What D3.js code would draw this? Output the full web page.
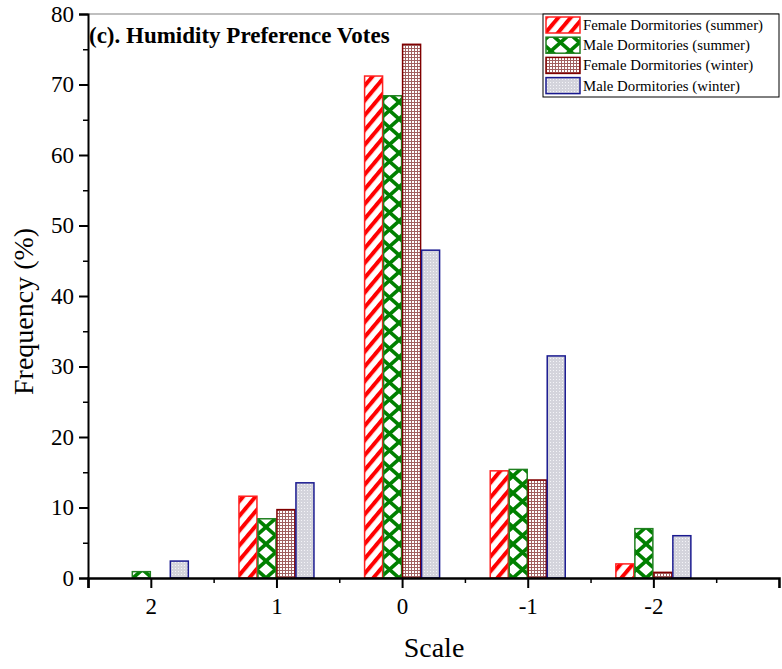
<!DOCTYPE html>
<html>
<head>
<meta charset="utf-8">
<script src="https://cdn.jsdelivr.net/npm/d3@7"></script>
<style>
  body { margin: 0; background: #fff; }
  svg text { font-family: "Liberation Serif", "Times New Roman", serif; }
</style>
</head>
<body>
<div id="chart"></div>
<script>
// data
const scaleValues = [2, 1, 0, -1, -2];
const seriesNames = [
  "Female Dormitories (summer)",
  "Male Dormitories (summer)",
  "Female Dormitories (winter)",
  "Male Dormitories (winter)"
];
const femaleSummer = [0, 11.6, 71.2, 15.2, 2.0];
const maleSummer   = [0.9, 8.4, 68.4, 15.4, 7.0];
const femaleWinter = [0, 9.7, 75.7, 13.9, 0.8];
const maleWinter   = [2.4, 13.5, 46.5, 31.5, 6.0];
const yTicks = [0, 10, 20, 30, 40, 50, 60, 70, 80];

const series = [femaleSummer, maleSummer, femaleWinter, maleWinter];
const strokes = ["#ff2020", "#208020", "#800000", "#1a1a90"];

const W = 782, H = 669;
const mLeft = 88, mRight = 779, mTop = 14, mBottom = 578;

const svg = d3.select("#chart").append("svg")
  .attr("width", W).attr("height", H);

// fill patterns
const defs = svg.append("defs");

const p0 = defs.append("pattern").attr("id", "pat0")
  .attr("patternUnits", "userSpaceOnUse")
  .attr("width", 9.5).attr("height", 9.5)
  .attr("patternTransform", "rotate(40)");
p0.append("rect").attr("width", 9.5).attr("height", 9.5).attr("fill", "#fff");
p0.append("rect").attr("x", 0).attr("width", 4).attr("height", 9.5).attr("fill", "#ff0000");

const p1 = defs.append("pattern").attr("id", "pat1")
  .attr("patternUnits", "userSpaceOnUse")
  .attr("width", 19).attr("height", 17);
p1.append("rect").attr("width", 19).attr("height", 17).attr("fill", "#fff");
p1.append("path").attr("d", "M0,0 L19,17 M19,0 L0,17 M-19,0 L0,17 M19,17 L38,0")
  .attr("stroke", "#008000").attr("stroke-width", 3.6).attr("fill", "none");

const p2 = defs.append("pattern").attr("id", "pat2")
  .attr("patternUnits", "userSpaceOnUse")
  .attr("width", 3).attr("height", 3);
p2.append("rect").attr("width", 3).attr("height", 3).attr("fill", "#fff");
p2.append("rect").attr("width", 3).attr("height", 1).attr("fill", "#a06060");
p2.append("rect").attr("width", 1).attr("height", 3).attr("fill", "#a06060");

const p3 = defs.append("pattern").attr("id", "pat3")
  .attr("patternUnits", "userSpaceOnUse")
  .attr("width", 3).attr("height", 3);
p3.append("rect").attr("width", 3).attr("height", 3).attr("fill", "#d4d4dc");
p3.append("rect").attr("x", 1).attr("y", 1).attr("width", 1).attr("height", 1).attr("fill", "#f4f4f8");

// scales
const x = d3.scaleLinear().domain([2.5, -3]).range([mLeft, mRight]);
const y = d3.scaleLinear().domain([0, 80]).range([mBottom, mTop]);
const inner = d3.scaleBand().domain(d3.range(series.length)).range([-38, 38]);

// grey top frame line and end tick
svg.append("line").attr("x1", mLeft).attr("x2", mRight).attr("y1", mTop).attr("y2", mTop)
  .attr("stroke", "#aaa").attr("stroke-width", 1.5);
svg.append("line").attr("x1", mRight).attr("x2", mRight).attr("y1", mBottom).attr("y2", mBottom + 10)
  .attr("stroke", "#999").attr("stroke-width", 1.5);

// bars
series.forEach((vals, si) => {
  svg.append("g").selectAll("rect")
    .data(vals.map((v, i) => ({ v, c: scaleValues[i] })).filter(d => d.v > 0))
    .enter().append("rect")
    .attr("x", d => x(d.c) + inner(si) + 0.5)
    .attr("y", d => y(d.v))
    .attr("width", inner.bandwidth() - 1)
    .attr("height", d => y(0) - y(d.v))
    .attr("fill", `url(#pat${si})`)
    .attr("stroke", strokes[si])
    .attr("stroke-width", 1.5);
});

// y axis
const yAxis = svg.append("g").attr("transform", `translate(${mLeft},0)`)
  .call(d3.axisLeft(y).tickValues(yTicks).tickSize(9).tickPadding(5));
yAxis.attr("font-family", null).attr("font-size", null);
yAxis.selectAll("text").style("font-size", "23px").attr("fill", "#000");
yAxis.select(".domain").attr("stroke-width", 2);
yAxis.selectAll(".tick line").attr("stroke-width", 2);
svg.append("g").attr("transform", `translate(${mLeft},0)`)
  .call(d3.axisLeft(y).tickValues(d3.range(5, 80, 10)).tickSize(5).tickFormat(""))
  .call(g => g.select(".domain").remove())
  .selectAll("line").attr("stroke-width", 1.5);

// x axis
const xAxis = svg.append("g").attr("transform", `translate(0,${mBottom})`)
  .call(d3.axisBottom(x).tickValues(scaleValues.concat([2.5])).tickSize(10).tickPadding(10)
    .tickFormat(d => d === 2.5 ? "" : String(d)));
xAxis.attr("font-family", null).attr("font-size", null);
xAxis.selectAll("text").style("font-size", "23px").attr("fill", "#000");
xAxis.select(".domain").attr("stroke-width", 2.5);
xAxis.selectAll(".tick line").attr("stroke-width", 2);
svg.append("g").attr("transform", `translate(0,${mBottom})`)
  .call(d3.axisBottom(x).tickValues([1.5, 0.5, -0.5, -1.5, -2.5]).tickSize(5).tickFormat(""))
  .call(g => g.select(".domain").remove())
  .selectAll("line").attr("stroke-width", 1.5);

// axis titles
svg.append("text").attr("x", 434).attr("y", 657).attr("text-anchor", "middle")
  .style("font-size", "28px").text("Scale");
svg.append("text").attr("transform", "translate(33,395) rotate(-90)")
  .attr("text-anchor", "start").style("font-size", "28px").text("Frequency (%)");

// panel title
svg.append("text").attr("x", 89).attr("y", 43)
  .style("font-size", "23px").style("font-weight", "bold")
  .text("(c). Humidity Preference Votes");

// legend
const lg = svg.append("g");
lg.append("rect").attr("x", 543).attr("y", 14).attr("width", 236).attr("height", 83)
  .attr("fill", "#fff").attr("stroke", "#000").attr("stroke-width", 1);
seriesNames.forEach((name, i) => {
  const yy = 17 + i * 20.2;
  lg.append("rect").attr("x", 546).attr("y", yy).attr("width", 34).attr("height", 16)
    .attr("fill", `url(#pat${i})`).attr("stroke", strokes[i]).attr("stroke-width", 1.5);
  lg.append("text").attr("x", 583).attr("y", yy + 13)
    .style("font-size", "14.8px").text(name);
});
</script>
</body>
</html>
